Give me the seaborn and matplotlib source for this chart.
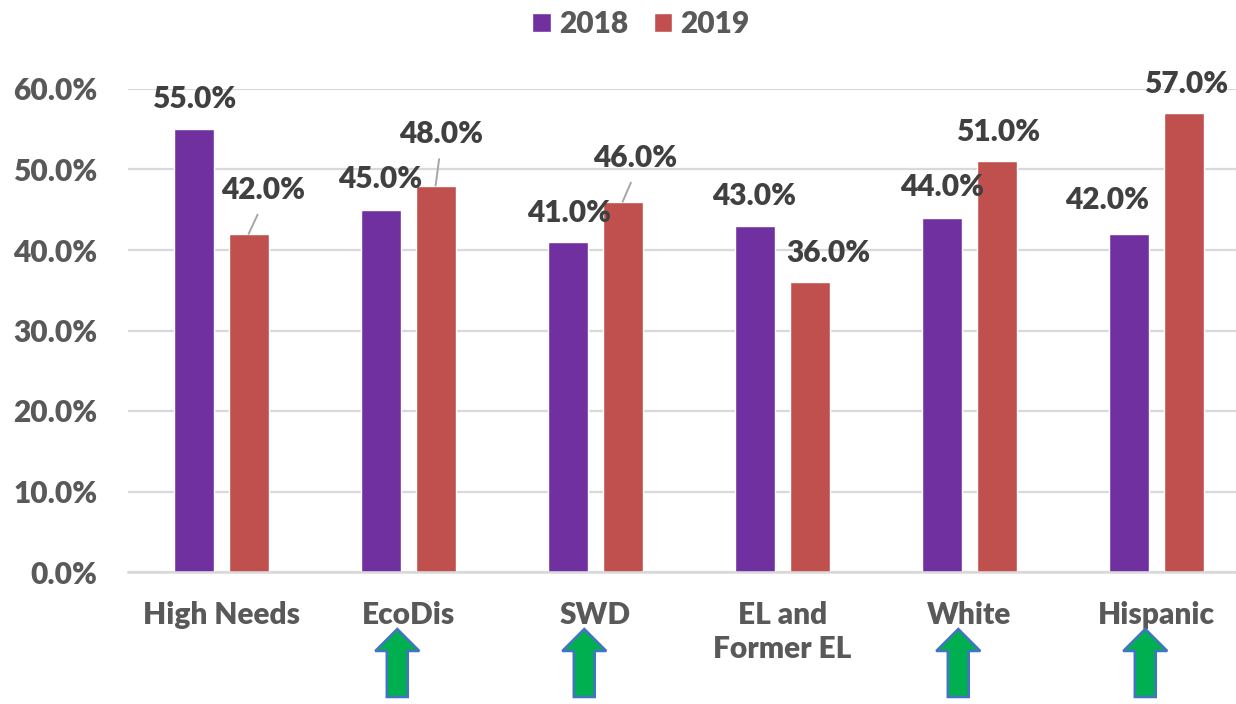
import numpy as np
import pandas as pd
import matplotlib
matplotlib.use("Agg")
import matplotlib.pyplot as plt
import matplotlib.patches as mpatches
import matplotlib.transforms as mtransforms
import seaborn as sns

# %% Data
groups = ['High Needs', 'EcoDis', 'SWD', 'EL and\nFormer EL', 'White', 'Hispanic']
years = ['2018', '2019']
rate_2018 = [55.0, 45.0, 41.0, 43.0, 44.0, 42.0]
rate_2019 = [42.0, 48.0, 46.0, 36.0, 51.0, 57.0]
improved = [False, True, True, False, True, True]
y_ticks = [0, 10, 20, 30, 40, 50, 60]

# label offsets from bar top (pixels: right, up) and leader flags
offsets = {
    '2018': [(0, 21), (-1, 22), (1, 20), (-1, 21), (0, 22), (-22, 25)],
    '2019': [(14, 35), (5, 43), (13, 35), (19, 20), (1, 20), (2, 20)],
}
leaders = {
    '2018': [False] * 6,
    '2019': [True, True, True, False, False, False],
}

colors = {'2018': '#7030A0', '2019': '#C0504D'}
grid_col = '#D9D9D9'
tick_col = '#595959'
label_col = '#404040'
fs = 21.5
wt = 'heavy'

df = pd.DataFrame({
    'Group': groups * 2,
    'Year': [years[0]] * len(groups) + [years[1]] * len(groups),
    'Rate': rate_2018 + rate_2019,
})

# %% Style
sns.set_style("white")
plt.rcParams['font.family'] = ['Lato', 'DejaVu Sans']
plt.rcParams['font.weight'] = wt

W, H = 1236, 704
fig = plt.figure(figsize=(W / 100, H / 100), dpi=100)
ax = fig.add_axes([128 / W, 1 - 572 / H, (W - 128) / W, 483 / H])

sns.barplot(data=df, x='Group', y='Rate', hue='Year', hue_order=years,
            palette=colors, width=0.58, gap=0.26, saturation=1,
            order=groups, ax=ax, zorder=2)

ax.set_ylim(0, 60)
ax.set_xlim(-0.5, -0.5 + (W - 128) / 187)
ax.set_yticks(y_ticks)
ax.set_yticklabels([f'{v:.1f}%' for v in y_ticks])
ax.yaxis.grid(True, color=grid_col, lw=1.6, zorder=0)
ax.set_axisbelow(True)
ax.tick_params(axis='both', length=0, labelsize=fs, colors=tick_col)
ax.tick_params(axis='y', pad=22)
ax.tick_params(axis='x', pad=21)
for t in ax.get_xticklabels() + ax.get_yticklabels():
    t.set_fontweight(wt)
    t.set_linespacing(1.25)
ax.set_xlabel('')
ax.set_ylabel('')
for s in ['left', 'right', 'top']:
    ax.spines[s].set_visible(False)
ax.spines['bottom'].set_color(grid_col)
ax.spines['bottom'].set_linewidth(1.8)

# %% Data labels
px = 72 / 100
for year, cont in zip(years, ax.containers):
    for i, bar in enumerate(cont):
        xc = bar.get_x() + bar.get_width() / 2
        top = bar.get_height()
        dx, dy = offsets[year][i]
        props = None
        if leaders[year][i]:
            props = dict(arrowstyle='-', color='#A6A6A6', lw=1.4,
                         relpos=(0.5, 0), shrinkA=6, shrinkB=0)
        ax.annotate(f'{top:.1f}%', xy=(xc, top),
                    xytext=(dx * px, dy * px), textcoords='offset points',
                    ha='center', va='baseline', fontsize=fs,
                    fontweight=wt, color=label_col,
                    arrowprops=props, annotation_clip=False, zorder=4)

# %% Legend
handles, labels = ax.get_legend_handles_labels()
ax.get_legend().remove()
fig.legend(handles, labels, loc='center', ncol=2,
           bbox_to_anchor=(641 / W, 1 - 24 / H), frameon=False,
           handlelength=0.63, handleheight=0.63, handletextpad=0.27,
           columnspacing=0.85, labelcolor=tick_col,
           prop=dict(size=fs, weight=wt))

# %% Green up arrows under improved groups
trans = mtransforms.blended_transform_factory(ax.transData, fig.transFigure)
tail = (H - 697) / H
tip = (H - 629) / H
for i, flag in enumerate(improved):
    if not flag:
        continue
    arr = mpatches.FancyArrow(i - 0.06, tail, 0, tip - tail,
                              width=21 / 187, head_width=44 / 187,
                              head_length=22 / H, length_includes_head=True,
                              facecolor='#00B050', edgecolor='#4472C4',
                              lw=1.8, transform=trans, clip_on=False)
    fig.add_artist(arr)

fig.savefig('out.png', dpi=100)
